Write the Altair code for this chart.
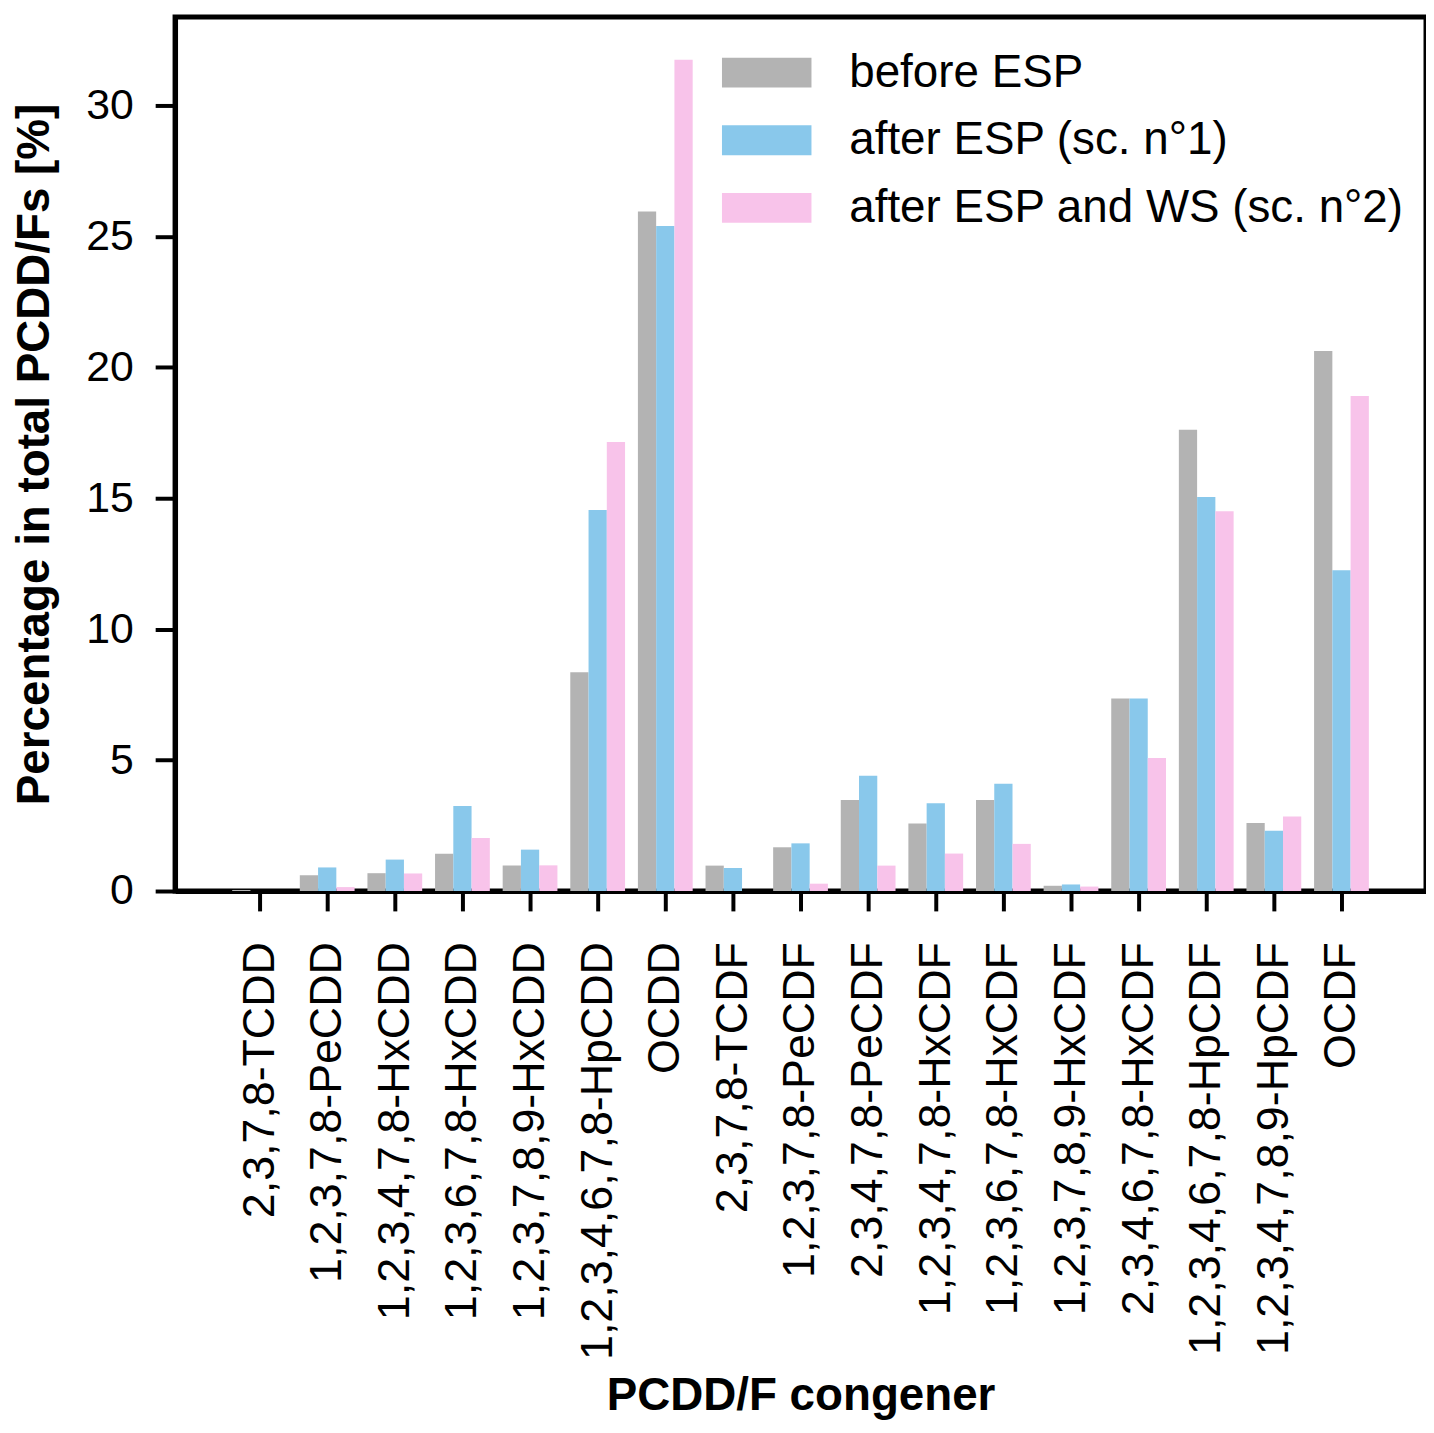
import altair as alt
import pandas as pd

congeners = [
    "2,3,7,8-TCDD", "1,2,3,7,8-PeCDD", "1,2,3,4,7,8-HxCDD", "1,2,3,6,7,8-HxCDD",
    "1,2,3,7,8,9-HxCDD", "1,2,3,4,6,7,8-HpCDD", "OCDD", "2,3,7,8-TCDF",
    "1,2,3,7,8-PeCDF", "2,3,4,7,8-PeCDF", "1,2,3,4,7,8-HxCDF", "1,2,3,6,7,8-HxCDF",
    "1,2,3,7,8,9-HxCDF", "2,3,4,6,7,8-HxCDF", "1,2,3,4,6,7,8-HpCDF",
    "1,2,3,4,7,8,9-HpCDF", "OCDF",
]
before_esp = [0.04, 0.6, 0.68, 1.42, 0.97, 8.35, 25.95, 0.97, 1.67, 3.48, 2.58, 3.48, 0.2, 7.35, 17.62, 2.6, 20.62]
after_esp = [0.0, 0.9, 1.2, 3.25, 1.58, 14.55, 25.4, 0.88, 1.82, 4.4, 3.35, 4.1, 0.25, 7.35, 15.05, 2.3, 12.25]
after_esp_ws = [0.0, 0.15, 0.67, 2.02, 0.98, 17.15, 31.75, 0.0, 0.28, 0.97, 1.43, 1.8, 0.17, 5.08, 14.5, 2.85, 18.9]

series = ["before ESP", "after ESP (sc. n°1)", "after ESP and WS (sc. n°2)"]
colors = ["#b3b3b3", "#89c8eb", "#f8c3ea"]
y_ticks = [0, 5, 10, 15, 20, 25, 30]

rows = []
for s, vals in zip(series, [before_esp, after_esp, after_esp_ws]):
    for c, v in zip(congeners, vals):
        rows.append({"congener": c, "series": s, "value": v})
df = pd.DataFrame(rows)

FONT = "Liberation Sans"

chart = alt.Chart(df).mark_bar(strokeWidth=0).encode(
    x=alt.X(
        "congener:N", sort=congeners,
        scale=alt.Scale(paddingInner=0.19, paddingOuter=0.845),
        axis=alt.Axis(
            title="PCDD/F congener", labelAngle=270, labelFontSize=45,
            labelPadding=31, tickSize=20, labelLimit=800,
            titleY=485, titleBaseline="top",
        ),
    ),
    xOffset=alt.XOffset("series:N", sort=series,
                        scale=alt.Scale(paddingInner=0, paddingOuter=0)),
    y=alt.Y(
        "value:Q",
        scale=alt.Scale(domain=[0, 33.38], nice=False, zero=True),
        axis=alt.Axis(
            title="Percentage in total PCDD/Fs [%]", values=y_ticks,
            labelFontSize=43, labelPadding=22, tickSize=20, titlePadding=27,
            grid=False,
        ),
    ),
    color=alt.Color(
        "series:N", sort=series,
        scale=alt.Scale(domain=series, range=colors),
        legend=alt.Legend(
            title=None, orient="none", legendX=550, legendY=11,
            symbolType="M-1,-0.333H1V0.333H-1Z", symbolSize=8100,
            symbolStrokeWidth=0, symbolOpacity=1,
            labelFontSize=46, labelFont=FONT, labelOffset=38, labelLimit=800,
            rowPadding=-22, labelColor="black",
        ),
    ),
).properties(
    width=1258, height=879,
    autosize=alt.AutoSizeParams(type="none"),
    padding={"left": 168, "top": 5, "right": 0, "bottom": 532},
).configure_view(
    stroke="black", strokeWidth=5,
).configure_axis(
    domainColor="black", domainWidth=5, tickColor="black", tickWidth=4,
    labelFont=FONT, titleFont=FONT, labelColor="black", titleColor="black",
    titleFontSize=46, titleFontWeight="bold",
)

chart.save("out.html", embed_options={"renderer": "svg", "actions": False})
